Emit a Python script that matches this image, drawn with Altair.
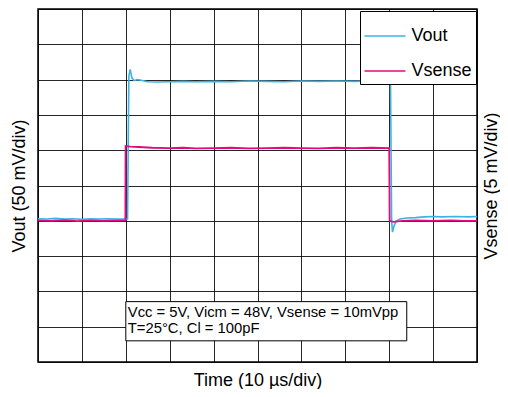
import altair as alt
import pandas as pd

# Time in microseconds (10 us/div), amplitudes in divisions
vout_t = [0, 2, 4, 6, 8, 10, 12, 14, 16, 18, 20.4, 20.7, 21.0, 21.4, 21.9, 22.6, 23.5, 25, 27, 30, 33, 36,
          40, 44, 48, 52, 56, 60, 64, 68, 72, 76, 80.3, 80.55, 80.75, 81.1, 81.6, 82.5, 84, 86, 88, 90,
          92, 95, 98, 100]
vout_v = [4.06, 4.05, 4.07, 4.05, 4.06, 4.04, 4.06, 4.05, 4.06, 4.05, 4.05, 8.1, 8.29, 8.05, 7.97, 8.0,
          7.98, 7.94, 7.93, 7.94, 7.95, 7.94, 7.95, 7.94, 7.96, 7.95, 7.94, 7.96, 7.95, 7.96, 7.95, 7.96,
          7.95, 4.0, 3.68, 3.85, 4.0, 4.05, 4.08, 4.09, 4.11, 4.12, 4.11, 4.12, 4.11, 4.12]

vsense_t = [0, 3, 6, 9, 12, 15, 18, 19.9, 19.95, 21, 23, 26, 30, 33, 36, 40, 44, 48, 52, 56, 60, 64, 68,
            72, 76, 80.0, 80.1, 81, 83, 86, 90, 94, 97, 100]
vsense_v = [4.01, 4.0, 4.02, 3.99, 4.01, 4.0, 4.01, 4.01, 6.12, 6.1, 6.09, 6.07, 6.06, 6.07, 6.05, 6.06,
            6.07, 6.05, 6.06, 6.07, 6.06, 6.05, 6.07, 6.06, 6.07, 6.06, 4.0, 3.97, 4.0, 4.01, 4.0, 4.01,
            4.0, 4.0]

series_names = ["Vout", "Vsense"]
series_colors = ["#3BB4E5", "#E5097F"]

note_lines = ["Vcc = 5V, Vicm = 48V, Vsense = 10mVpp", "T=25°C, Cl = 100pF"]
note_box = {"x": [20.0], "x2": [84.0], "y": [1.71], "y2": [0.60]}

FONT = "Liberation Sans"

vout_df = pd.DataFrame({"t": vout_t, "v": vout_v, "series": "Vout"})
vsense_df = pd.DataFrame({"t": vsense_t, "v": vsense_v, "series": "Vsense"})
box_df = pd.DataFrame(note_box)
text_df = pd.DataFrame({"x": [20.0], "y": [1.71], "txt": [note_lines]})

xscale = alt.Scale(domain=[0, 100], nice=False, zero=False)
yscale = alt.Scale(domain=[0, 10], nice=False, zero=False)
color = alt.Color("series:N",
                  scale=alt.Scale(domain=series_names, range=series_colors),
                  legend=alt.Legend(title=None, orient="none", legendX=322, legendY=2,
                                    symbolType="stroke", symbolSize=1681, symbolStrokeWidth=1.6,
                                    labelFontSize=18, labelFont=FONT, labelColor="black",
                                    labelOffset=5, padding=3.5, rowPadding=4,
                                    strokeColor="black", fillColor="white"))

xaxis = alt.Axis(values=list(range(0, 101, 10)), labels=False, ticks=False, domain=False,
                 grid=True, gridColor="black", gridWidth=1, gridOpacity=0.85,
                 title="Time (10 µs/div)", titleFont=FONT, titleFontSize=18,
                 titleFontWeight="normal", titlePadding=9, titleColor="black")

vout = alt.Chart(vout_df).mark_line(strokeWidth=1.6).encode(
    x=alt.X("t:Q", scale=xscale, axis=xaxis),
    y=alt.Y("v:Q", scale=yscale,
            axis=alt.Axis(values=list(range(0, 11)), labels=False, ticks=False, domain=False,
                          grid=True, gridColor="black", gridWidth=1, gridOpacity=0.85,
                          title="Vout (50 mV/div)", titleFont=FONT, titleFontSize=18,
                          titleFontWeight="normal", titlePadding=10, titleColor="black")),
    color=color,
)

vsense = alt.Chart(vsense_df).mark_line(strokeWidth=1.8).encode(
    x=alt.X("t:Q", scale=xscale),
    y=alt.Y("v:Q", scale=yscale,
            axis=alt.Axis(orient="right", labels=False, ticks=False, domain=False, grid=False,
                          title="Vsense (5 mV/div)", titleFont=FONT, titleFontSize=18,
                          titleAngle=270, titleBaseline="top",
                          titleFontWeight="normal", titlePadding=5, titleColor="black")),
    color=color,
)

box = alt.Chart(box_df).mark_rect(fill="white", stroke="black", strokeWidth=1).encode(
    x=alt.X("x:Q", scale=xscale),
    x2="x2:Q",
    y=alt.Y("y:Q", scale=yscale, axis=None),
    y2="y2:Q",
)

note = alt.Chart(text_df).mark_text(align="left", baseline="top", font=FONT, fontSize=14.8,
                                    lineHeight=16.7, dx=2, dy=3, color="black").encode(
    x=alt.X("x:Q", scale=xscale),
    y=alt.Y("y:Q", scale=yscale, axis=None),
    text="txt",
)

chart = alt.layer(vout, box, note, vsense).resolve_scale(y="independent").properties(
    width=439, height=353,
    autosize=alt.AutoSizeParams(type="none"),
    padding={"left": 30, "top": 1, "right": 23, "bottom": 27},
).configure_view(stroke="black", strokeWidth=1.5)

chart.save("out.html", embed_options={"renderer": "svg", "actions": False})
